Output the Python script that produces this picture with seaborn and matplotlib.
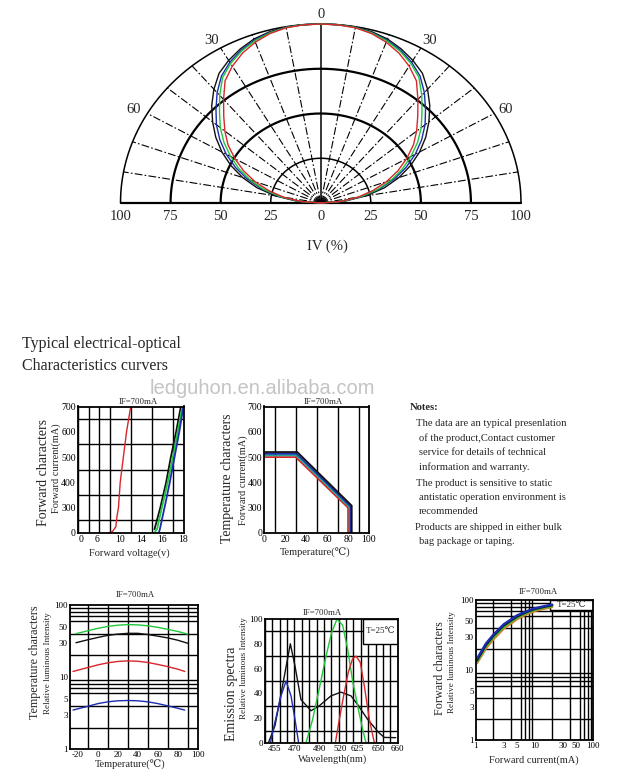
import numpy as np
import matplotlib
matplotlib.use("Agg")
import matplotlib.pyplot as plt
import seaborn as sns
from matplotlib.patches import Rectangle
from matplotlib.ticker import NullFormatter

# ------------------------------------------------------------------ data
# radiation pattern: relative intensity (%) vs half angle (deg)
POLAR_ANGLES = [0, 5, 10, 15, 20, 25, 30, 35, 40, 45, 50, 55, 60, 65, 70, 75, 80, 85, 90]
POLAR_BLACK = [100, 100, 99.8, 99, 97.5, 95, 92, 88.5, 83, 77, 70.5, 64, 57, 49.5, 41.5, 33, 23, 12, 0]
POLAR_BLUE = [100, 100, 99.7, 98.6, 96.8, 94.2, 90.8, 86.5, 80.5, 74, 68, 61.5, 54.5, 47, 39, 30.5, 21, 11, 0]
POLAR_GREEN = [100, 100, 99.6, 98.4, 96.4, 93.6, 90, 85.5, 78.5, 71.5, 65.5, 59, 52, 45, 37.5, 29.5, 20.5, 10.7, 0]
POLAR_RED = [100, 99.9, 99.4, 98, 95.6, 92.4, 88.3, 83.3, 75.5, 68.5, 62.5, 56.5, 49.5, 42.5, 35, 27, 19, 10, 0]
POLAR_RADIUS_LABELS = ["100", "75", "50", "25", "0", "25", "50", "75", "100"]
POLAR_RADII = [-100, -75, -50, -25, 0, 25, 50, 75, 100]

# forward characters: forward voltage (V) vs forward current (mA)
A_VOLT_TICKS = [0, 6, 10, 14, 16, 18]
A_CUR_TICKS = [0, 300, 400, 500, 600, 700]
A_RED_V = [8.0, 8.7, 9.25, 9.45, 9.7, 10.0, 10.6, 11.2, 12.0]
A_RED_I = [0, 20, 75, 200, 300, 400, 500, 600, 700]
A_BLACK_V = [15.25, 15.8, 16.35, 16.8, 17.3, 17.75]
A_BLACK_I = [45, 300, 400, 500, 600, 700]
A_GREEN_V = [15.3, 15.5, 15.95, 16.5, 17.0, 17.45, 17.9]
A_GREEN_I = [15, 50, 300, 400, 500, 600, 700]
A_BLUE_V = [15.65, 15.75, 16.2, 16.7, 17.15, 17.6, 18.0]
A_BLUE_I = [0, 40, 300, 400, 500, 600, 700]

# temperature characters: temperature (C) vs forward current (mA)
B_TEMP_TICKS = [0, 20, 40, 60, 80, 100]
B_CUR_TICKS = [0, 300, 400, 500, 600, 700]
B_RED_T = [0, 30, 80, 80]
B_RED_I = [500, 500, 300, 0]
B_GREEN_T = [0, 30.5, 81.5, 81.5]
B_GREEN_I = [507, 507, 302, 0]
B_BLUE_T = [0, 31, 82.5, 82.5]
B_BLUE_I = [513, 513, 305, 0]
B_BLACK_T = [0, 31.5, 83.5, 83.5]
B_BLACK_I = [520, 520, 308, 0]

# temperature characters: temperature (C) vs relative luminous intensity
C_TEMP_TICKS = [-20, 0, 20, 40, 60, 80, 100]
C_LOG_TICKS = [1, 3, 5, 10, 30, 50, 100]
C_T_WIDE = [-22, -10, 0, 10, 20, 30, 40, 50, 60, 70, 80, 90]
C_GREEN = [40, 44, 47.5, 50.5, 52.5, 53.5, 53, 51.5, 49, 46, 43, 39.5]
C_BLACK = [30, 33, 35.5, 38, 39.5, 40.5, 40.5, 39, 37, 35, 32.5, 29.5]
C_T_NARROW = [-25, -10, 0, 10, 20, 30, 40, 50, 60, 70, 80, 87]
C_RED = [12, 13.6, 14.8, 15.8, 16.5, 16.8, 16.6, 16, 15, 14, 12.9, 12]
C_BLUE = [3.5, 3.95, 4.3, 4.55, 4.7, 4.75, 4.7, 4.55, 4.3, 4.0, 3.7, 3.5]

# emission spectra: wavelength (nm) vs relative intensity
D_WL_TICKS = [455, 470, 490, 520, 625, 650, 660]
D_INT_TICKS = [0, 20, 40, 60, 80, 100]
D_BLUE_WL = [451.5, 455, 459.5, 463.3, 467, 470, 473]
D_BLUE_I = [0, 17, 38, 50, 38, 19, 0]
D_BLACK_WL = [450, 455, 461.5, 466.5, 470, 474.9, 483.2, 490, 506.7, 524, 585, 625, 637, 650, 653, 659]
D_BLACK_I = [0, 14, 51, 80, 62, 35, 26, 30, 38, 41, 38, 31, 19, 8.5, 4.5, 4.3]
D_GREEN_WL = [479, 484.5, 490, 499.6, 507.6, 515.3, 534, 564.3, 595, 625, 631, 635]
D_GREEN_I = [0, 19, 44, 70, 89, 100, 95, 76, 50, 30, 11, 0]
D_RED_WL = [512.9, 518.6, 540, 568.6, 594.7, 615.3, 628.2, 633, 639, 645]
D_RED_I = [0, 19, 38, 57, 68, 70, 65, 46, 19, 0]

# forward characters: forward current (mA) vs relative luminous intensity
E_LOG_TICKS = [1, 3, 5, 10, 30, 50, 100]
E_CUR = [1.05, 1.5, 2, 3, 5, 7, 10, 15, 20]
E_BLUE = [14.5, 24, 32, 45, 60, 68, 76, 82, 86]
E_BLACK = [13.8, 23, 31, 43.5, 58, 66.5, 74.5, 80.5, 84.5]
E_GREEN = [13.2, 22, 29.5, 41.5, 56, 64.5, 72.5, 78.5, 82.5]
E_ORANGE = [12.5, 20.5, 27.5, 39, 53, 61.5, 69.5, 75.5, 79.5]

TITLE_LINES = ["Typical electrical-optical", "Characteristics curvers"]
WATERMARK = "ledguhon.en.alibaba.com"
NOTES = [
    ("Notes:", 410, 408, True),
    ("The data are an typical presenlation", 416, 423, False),
    ("of the product,Contact customer", 419, 438, False),
    ("service for details of technical", 419, 453, False),
    ("information and warranty.", 419, 467, False),
    ("The product is sensitive to static", 416, 483, False),
    ("antistatic operation environment is", 419, 497, False),
    ("recommended", 419, 512, False),
    ("Products are shipped in either bulk", 415, 527, False),
    ("bag package or taping.", 419, 542, False),
]

# ------------------------------------------------------------------ style
sns.set_theme(style="white")
SERIF = ["Liberation Serif", "DejaVu Serif", "DejaVu Sans"]
plt.rcParams["font.family"] = SERIF
plt.rcParams["axes.unicode_minus"] = False

RED = "#d8262a"
GREEN = "#1fc83a"
BLUE = "#1c2bb0"
BLACK = "#111111"
ORANGE = "#e07a28"

W, H = 629, 781
fig = plt.figure(figsize=(W / 100, H / 100), dpi=100)
fig.patch.set_facecolor("white")


def rect(l, t, r, b):
    return [l / W, 1 - b / H, (r - l) / W, (b - t) / H]


def ftext(x, y, s, **kw):
    kw.setdefault("ha", "center")
    kw.setdefault("va", "center")
    fig.text(x / W, 1 - y / H, s, **kw)


def pw(xp, fp):
    xp = np.asarray(xp, float)
    fp = np.asarray(fp, float)

    def f(x):
        x = np.asarray(x, float)
        y = np.interp(x, xp, fp)
        y = np.where(x < xp[0], fp[0] + (x - xp[0]) * (fp[1] - fp[0]) / (xp[1] - xp[0]), y)
        y = np.where(x > xp[-1], fp[-1] + (x - xp[-1]) * (fp[-1] - fp[-2]) / (xp[-1] - xp[-2]), y)
        return y
    return f


def line(ax, x, y, color, lw=1.0, clip=True):
    sns.lineplot(x=np.asarray(x, float), y=np.asarray(y, float), ax=ax, color=color,
                 lw=lw, sort=False, estimator=None, legend=False, clip_on=clip)


def style(ax, fs=7):
    ax.set_axisbelow(True)
    ax.tick_params(which="both", length=0, pad=1.5, labelsize=fs, colors="black")
    ax.grid(False, which="major")
    ax.grid(True, which="minor", color="black", lw=1.0)
    ax.xaxis.set_minor_formatter(NullFormatter())
    ax.yaxis.set_minor_formatter(NullFormatter())
    for s in ax.spines.values():
        s.set_visible(True)
        s.set_color("black")
        s.set_linewidth(1.3)


# ------------------------------------------------------------------ polar pattern
axp = fig.add_axes(rect(120.5, 24, 521, 203))
axp.set_xlim(-100, 100)
axp.set_ylim(0, 100)
axp.axis("off")
th = np.linspace(-np.pi / 2, np.pi / 2, 361)
for r, lw in [(25, 1.1), (50, 1.6), (75, 1.6), (100, 1.1)]:
    axp.plot(r * np.sin(th), r * np.cos(th), color="black", lw=lw, clip_on=False)
for a in range(10, 90, 10):
    for sgn in (-1, 1):
        t = np.deg2rad(a) * sgn
        axp.plot([0, 100 * np.sin(t)], [0, 100 * np.cos(t)], color="black", lw=0.8,
                 ls=(0, (7, 2, 1.5, 2)), clip_on=False)
axp.plot([0, 0], [0, 100], color="black", lw=1.1, clip_on=False)
axp.plot([-100, 100], [0, 0], color="black", lw=1.6, clip_on=False)

ang = np.deg2rad(np.asarray(POLAR_ANGLES, float))
full_ang = np.concatenate([-ang[::-1], ang[1:]])
for vals, col in [(POLAR_BLACK, BLACK), (POLAR_BLUE, BLUE), (POLAR_GREEN, GREEN), (POLAR_RED, RED)]:
    v = np.asarray(vals, float)
    rr = np.concatenate([v[::-1], v[1:]])
    line(axp, rr * np.sin(full_ang), rr * np.cos(full_ang), col, lw=1.0, clip=False)

pfs = 10.5
for rv, lab in zip(POLAR_RADII, POLAR_RADIUS_LABELS):
    axp.text(rv, -7.5, lab, ha="center", va="center", fontsize=pfs)
axp.text(0, 105.5, "0", ha="center", va="center", fontsize=pfs)
axp.text(-54.5, 91, "30", ha="center", va="center", fontsize=pfs)
axp.text(54.5, 91, "30", ha="center", va="center", fontsize=pfs)
axp.text(-93.5, 52, "60", ha="center", va="center", fontsize=pfs)
axp.text(92.5, 52, "60", ha="center", va="center", fontsize=pfs)
axp.text(3.5, -24, "IV (%)", ha="center", va="center", fontsize=pfs)

# ------------------------------------------------------------------ titles / notes
ftext(22, 344, TITLE_LINES[0], ha="left", fontsize=11.5)
ftext(22, 366, TITLE_LINES[1], ha="left", fontsize=11.5)
ftext(262, 388, WATERMARK, fontsize=14.5, color="#c4c4c4",
      family=["Liberation Sans", "DejaVu Sans"], zorder=10)
for s, x, y, bold in NOTES:
    ftext(x, y, s, ha="left", fontsize=7.6, fontweight="bold" if bold else "normal")

# ------------------------------------------------------------------ A: forward characters
axA = fig.add_axes(rect(78, 406.5, 183.5, 533))
a_cols = [0, 0.25, 1.8, 4, 6, 8, 10]
a_volts = [-0.97] + A_VOLT_TICKS
axA.set_xscale("function", functions=(pw(a_volts, a_cols), pw(a_cols, a_volts)))
a_rows_anchor = [0, 2, 10]
a_cur_anchor = [0, 300, 700]
axA.set_yscale("function", functions=(pw(a_cur_anchor, a_rows_anchor), pw(a_rows_anchor, a_cur_anchor)))
axA.set_xlim(-0.97, 18)
axA.set_ylim(0, 700)
axA.set_xticks(A_VOLT_TICKS, [str(v) for v in A_VOLT_TICKS])
axA.set_yticks(A_CUR_TICKS, [str(v) for v in A_CUR_TICKS])
axA.set_xticks(pw(a_cols, a_volts)(np.arange(11)), minor=True)
axA.set_yticks(pw(a_rows_anchor, a_cur_anchor)(np.arange(11)), minor=True)
style(axA)
line(axA, A_RED_V, A_RED_I, RED, 1.0)
line(axA, A_BLACK_V, A_BLACK_I, BLACK, 1.3)
line(axA, A_GREEN_V, A_GREEN_I, GREEN, 1.3)
line(axA, A_BLUE_V, A_BLUE_I, BLUE, 1.3)
ftext(138, 401.5, "IF=700mA", fontsize=6.3)
ftext(129, 553, "Forward voltage(v)", fontsize=7.5)
ftext(43.5, 473, "Forward characters", rotation=90, fontsize=10)
ftext(56, 468, "Forward current(mA)", rotation=90, fontsize=7.5)

# ------------------------------------------------------------------ B: temperature characters
axB = fig.add_axes(rect(264.3, 406.5, 369, 533))
b_rows_anchor = [0, 1, 5]
axB.set_yscale("function", functions=(pw(a_cur_anchor, b_rows_anchor), pw(b_rows_anchor, a_cur_anchor)))
axB.set_xlim(0, 100)
axB.set_ylim(0, 700)
axB.set_xticks(B_TEMP_TICKS, [str(v) for v in B_TEMP_TICKS])
axB.set_yticks(B_CUR_TICKS, [str(v) for v in B_CUR_TICKS])
axB.set_xticks(np.arange(0, 101, 10), minor=True)
axB.set_yticks(B_CUR_TICKS, minor=True)
style(axB)
line(axB, B_RED_T, B_RED_I, RED, 1.3)
line(axB, B_GREEN_T, B_GREEN_I, "#20a88a", 1.3)
line(axB, B_BLUE_T, B_BLUE_I, BLUE, 1.3)
line(axB, B_BLACK_T, B_BLACK_I, BLACK, 1.3)
ftext(323, 401.5, "IF=700mA", fontsize=6.3)
ftext(315, 553, "Temperature(\u2103)", fontsize=7.5)
ftext(228, 478, "Temperature characters", rotation=90, fontsize=10)
ftext(243, 480, "Forward current(mA)", rotation=90, fontsize=7.5)

# ------------------------------------------------------------------ C: temperature vs luminous intensity
axC = fig.add_axes(rect(70, 605, 197.7, 749.3))
axC.set_yscale("log")
axC.set_xlim(-28, 100)
axC.set_ylim(1, 100)
axC.set_xticks(C_TEMP_TICKS, [str(v) for v in C_TEMP_TICKS])
axC.set_yticks(C_LOG_TICKS, [str(v) for v in C_LOG_TICKS])
axC.set_xticks(np.arange(-20, 101, 10), minor=True)
axC.set_yticks(list(range(1, 10)) + list(range(10, 101, 10)), minor=True)
style(axC, fs=6.5)
line(axC, C_T_WIDE, C_GREEN, GREEN, 1.0)
line(axC, C_T_WIDE, C_BLACK, BLACK, 1.0)
line(axC, C_T_NARROW, C_RED, RED, 1.0)
line(axC, C_T_NARROW, C_BLUE, BLUE, 1.0)
ftext(135, 595, "IF=700mA", fontsize=6.3)
ftext(130, 765, "Temperature(\u2103)", fontsize=7.5)
ftext(35, 662, "Temperature characters", rotation=90, fontsize=8.7)
ftext(47.5, 663, "Relative luminous Intensity", rotation=90, fontsize=6.6)

# ------------------------------------------------------------------ D: emission spectra
axD = fig.add_axes(rect(265, 619, 397.6, 743))
d_wl_anchor = [447.5] + D_WL_TICKS
d_pos_anchor = [0, 10, 30, 54.3, 75.3, 92.6, 113.6, 132.6]
axD.set_xscale("function", functions=(pw(d_wl_anchor, d_pos_anchor), pw(d_pos_anchor, d_wl_anchor)))
axD.set_xlim(447.5, 660)
axD.set_ylim(0, 100)
axD.set_xticks(D_WL_TICKS, [str(v) for v in D_WL_TICKS])
axD.set_yticks(D_INT_TICKS, [str(v) for v in D_INT_TICKS])
axD.set_xticks(pw(d_pos_anchor, d_wl_anchor)(np.linspace(0, 132.6, 19)), minor=True)
axD.set_yticks(np.arange(0, 101, 10), minor=True)
style(axD, fs=6.5)
axD.add_patch(Rectangle((0.741, 0.8), 0.259, 0.2, transform=axD.transAxes,
                        facecolor="white", edgecolor="black", lw=1.0, zorder=1.5))
axD.text(0.875, 0.9, "T=25\u2103", transform=axD.transAxes, ha="center", va="center",
         fontsize=6.5, zorder=3)
line(axD, D_BLACK_WL, D_BLACK_I, BLACK, 1.0)
line(axD, D_BLUE_WL, D_BLUE_I, BLUE, 1.0)
line(axD, D_GREEN_WL, D_GREEN_I, GREEN, 1.0)
line(axD, D_RED_WL, D_RED_I, RED, 1.0)
ftext(322, 613, "IF=700mA", fontsize=6.3)
ftext(333, 759, "Wavelength(nm)", fontsize=7.5)
ftext(231, 694, "Emission spectra", rotation=90, fontsize=10)
ftext(243.5, 668, "Relative luminous Intensity", rotation=90, fontsize=6.6)

# ------------------------------------------------------------------ E: forward current vs luminous intensity
axE = fig.add_axes(rect(475.7, 600, 593.3, 740))
axE.set_xscale("log")
axE.set_yscale("log")
axE.set_xlim(1, 100)
axE.set_ylim(1, 100)
axE.set_xticks(E_LOG_TICKS, [str(v) for v in E_LOG_TICKS])
axE.set_yticks(E_LOG_TICKS, [str(v) for v in E_LOG_TICKS])
logminor = list(range(1, 10)) + list(range(10, 101, 10))
axE.set_xticks(logminor, minor=True)
axE.set_yticks(logminor, minor=True)
style(axE, fs=6.5)
axE.add_patch(Rectangle((0.632, 0.929), 0.368, 0.071, transform=axE.transAxes,
                        facecolor="white", edgecolor="black", lw=1.0, zorder=1.5))
axE.text(0.816, 0.964, "T=25\u2103", transform=axE.transAxes, ha="center", va="center",
         fontsize=6.5, zorder=3)
line(axE, E_CUR, E_ORANGE, ORANGE, 1.7)
line(axE, E_CUR, E_GREEN, GREEN, 1.7)
line(axE, E_CUR, E_BLACK, BLACK, 1.7)
line(axE, E_CUR, E_BLUE, BLUE, 1.7)
ftext(538, 592, "IF=700mA", fontsize=6.3)
ftext(534, 760, "Forward current(mA)", fontsize=7.5)
ftext(440, 668, "Forward characters", rotation=90, fontsize=8.7)
ftext(452, 662, "Relative luminous Intensity", rotation=90, fontsize=6.6)

fig.savefig("out.png", dpi=100, facecolor="white")
